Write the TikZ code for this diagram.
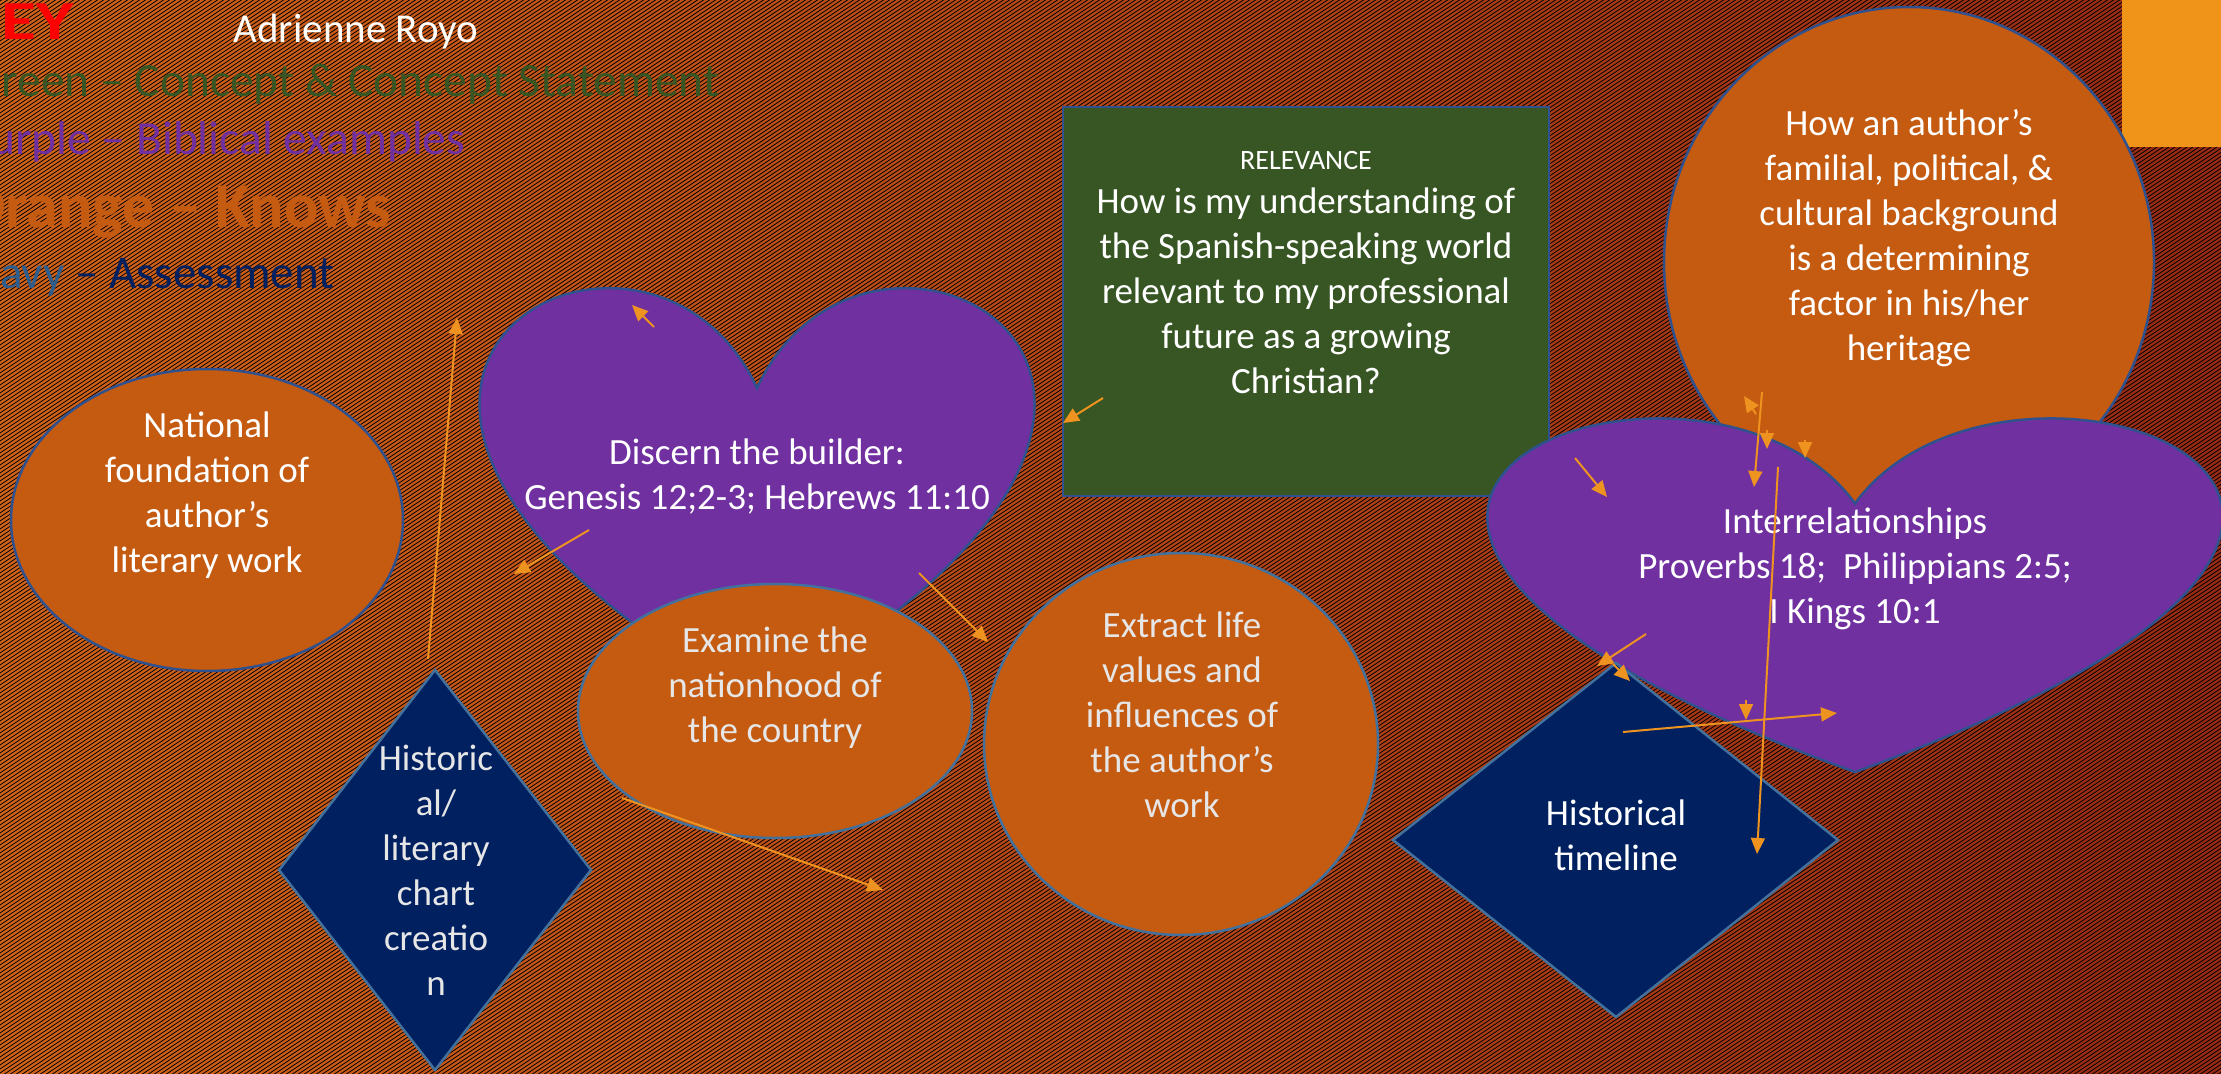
\documentclass[tikz,border=0pt]{standalone}
\usepackage{fontspec}
\setmainfont{Carlito}
\usepackage{graphicx}
\usetikzlibrary{patterns.meta,arrows.meta}
\definecolor{orgF}{HTML}{C55A11}
\definecolor{purF}{HTML}{7030A0}
\definecolor{grnF}{HTML}{375623}
\definecolor{navF}{HTML}{002060}
\definecolor{lnA}{HTML}{41719C}
\definecolor{lnB}{HTML}{2F528F}
\definecolor{arrC}{HTML}{EE9320}
\definecolor{rectO}{HTML}{EF9418}
\definecolor{bgL}{HTML}{D0631A}
\definecolor{bgM}{HTML}{B84A18}
\definecolor{bgR}{HTML}{962A14}
\definecolor{txG}{HTML}{E6E6E6}
\definecolor{keyNavyA}{HTML}{2E5E8E}
\pgfdeclarepattern{
  name=bgstripes, type=uncolored,
  bottom left={\pgfpoint{0mm}{0mm}},
  top right={\pgfpoint{0.6mm}{0.4mm}},
  tile size={\pgfpoint{0.6mm}{0.4mm}},
  code={
    \pgfsetlinewidth{0.08mm}
    \pgfpathmoveto{\pgfpoint{-0.3mm}{-0.2mm}}\pgfpathlineto{\pgfpoint{0.9mm}{0.6mm}}
    \pgfpathmoveto{\pgfpoint{-0.3mm}{0.2mm}}\pgfpathlineto{\pgfpoint{0.9mm}{1.0mm}}
    \pgfpathmoveto{\pgfpoint{-0.3mm}{-0.6mm}}\pgfpathlineto{\pgfpoint{0.9mm}{0.2mm}}
    \pgfusepath{stroke}
  }
}
\tikzset{
  shp/.style={line width=0.25mm},
  orgshape/.style={shp, fill=orgF, draw=lnA},
  purshape/.style={shp, fill=purF, draw=lnB},
  grnshape/.style={shp, fill=grnF, draw=lnB},
  navshape/.style={shp, fill=navF, draw=lnA},
  lbl/.style={inner sep=0, align=center, text=white, font=\fontsize{3.7mm}{4.5mm}\selectfont},
  keytxt/.style={inner sep=0, anchor=base east},
  arr/.style={draw=arrC, line width=0.2mm, -{Triangle[length=1.6mm,width=1.4mm]}},
}
\begin{document}
\begin{tikzpicture}[x=0.1mm,y=-0.1mm]
\useasboundingbox (0,0) rectangle (2221,1073);
\clip (0,0) rectangle (2221,1073);
% background
\shade[left color=bgL, middle color=bgM, right color=bgR] (0,0) rectangle (2221,1073);
\fill[pattern=bgstripes, pattern color=black] (0,0) rectangle (2221,1073);
% top-right rectangle
\fill[rectO] (2122,0) rectangle (2221,147);
% relevance box (multi-line nodes: base = last line)
\draw[grnshape] (1063,107) rectangle (1549,496);
\node[lbl, anchor=base, font=\fontsize{2.8mm}{3.4mm}\selectfont] (relT) at (1306,170) {RELEVANCE};
\node[lbl, anchor=base] (relQ) at (1306,393) {How is my understanding of\\the Spanish-speaking world\\relevant to my professional\\future as a growing\\Christian?};
% big orange circle
\draw[orgshape, draw=lnB] (1909,262) ellipse [x radius=24.5mm, y radius=25.5mm];
\node[lbl, anchor=base] (how) at (1909,360) {How an author’s\\familial, political, \&\\cultural background\\is a determining\\factor in his/her\\heritage};
% right heart
\draw[purshape] (1855,503.5) .. controls (2007.1,294.7) and (2600.2,503.5) .. (1855,772) .. controls (1109.8,503.5) and (1702.9,294.7) .. (1855,503.5) -- cycle;
\node[lbl, anchor=base] (inter) at (1855,623) {Interrelationships\\Proverbs 18;\ \ Philippians 2:5;\\I Kings 10:1};
% national ellipse
\draw[orgshape, draw=lnB] (207,520) ellipse [x radius=19.6mm, y radius=15.1mm];
\node[lbl, anchor=base] (nat) at (207,572) {National\\foundation of\\author’s\\literary work};
% left heart
\draw[purshape] (757,388) .. controls (871.8,143) and (1319.5,388) .. (757,703) .. controls (194.5,388) and (642.2,143) .. (757,388) -- cycle;
\node[lbl, anchor=base] (disc) at (757,509) {Discern the builder:\\Genesis 12;2-3; Hebrews 11:10};
% examine ellipse
\draw[orgshape] (775,711) ellipse [x radius=19.7mm, y radius=12.7mm];
\node[lbl, text=txG, anchor=base] (exam) at (775,742) {Examine the\\nationhood of\\the country};
% extract circle
\draw[orgshape] (1181,744) ellipse [x radius=19.7mm, y radius=19.1mm];
\node[lbl, text=txG, anchor=base] (extr) at (1182,817) {Extract life\\values and\\influences of\\the author’s\\work};
% historic diamond
\draw[navshape] (435,670) -- (591,870) -- (435,1070) -- (279,870) -- cycle;
\node[lbl, text=txG, anchor=base] (hist) at (436,995) {Historic\\al/\\literary\\chart\\creatio\\n};
% timeline diamond
\draw[navshape] (1616,663) -- (1838,840) -- (1616,1017) -- (1393,840) -- cycle;
\node[lbl, anchor=base] (time) at (1616,870) {Historical\\timeline};
% key
\node[keytxt, text=red, font=\fontsize{5.5mm}{6.5mm}\selectfont\bfseries] (key) at (74,40) {\scalebox{1.3}[1]{KEY}};
\node[inner sep=0, anchor=base, text=white, font=\fontsize{4.1mm}{5mm}\selectfont] (author) at (356,43) {Adrienne Royo};
\node[keytxt, text=grnF, font=\fontsize{4.75mm}{5.7mm}\selectfont] (kG) at (720,97) {Green – Concept \& Concept Statement};
\node[keytxt, text=purF, font=\fontsize{4.75mm}{5.7mm}\selectfont] (kP) at (466,154) {Purple – Biblical examples};
\node[keytxt, text=orgF, font=\fontsize{6.4mm}{7.6mm}\selectfont\bfseries] (kO) at (392,227) {Orange – Knows};
\node[keytxt, font=\fontsize{4.7mm}{5.6mm}\selectfont] (kN) at (335,288) {\textcolor{keyNavyA}{Navy} \textcolor{navF}{– Assessment}};
% arrows
\coordinate (a1s) at (654,327); \coordinate (a1e) at (632,305);
\coordinate (a2s) at (589,530); \coordinate (a2e) at (514,574);
\coordinate (a3s) at (919,573); \coordinate (a3e) at (988,642);
\coordinate (a4s) at (622,798); \coordinate (a4e) at (883,890);
\coordinate (a5s) at (428,659); \coordinate (a5e) at (457,318);
\coordinate (a6s) at (1103,398); \coordinate (a6e) at (1063,423);
\coordinate (b1s) at (1575,458); \coordinate (b1e) at (1607,497);
\coordinate (b2s) at (1762,392); \coordinate (b2e) at (1754,487);
\coordinate (b3s) at (1756,414); \coordinate (b3e) at (1744,396);
\coordinate (b4s) at (1767,430); \coordinate (b4e) at (1767,449);
\coordinate (b5s) at (1805,440); \coordinate (b5e) at (1805,458);
\coordinate (b6s) at (1778,467); \coordinate (b6e) at (1757,854);
\coordinate (b7s) at (1746,700); \coordinate (b7e) at (1746,720);
\coordinate (b8s) at (1623,732); \coordinate (b8e) at (1837,713);
\coordinate (b9s) at (1646,634); \coordinate (b9e) at (1597,666);
\coordinate (b10s) at (1613,664); \coordinate (b10e) at (1630,681);
\foreach \p in {a1,a2,a3,a4,a5,a6,b1,b2,b3,b4,b5,b6,b7,b8,b9,b10}
  \draw[arr] (\p s) -- (\p e);
\end{tikzpicture}
\end{document}
